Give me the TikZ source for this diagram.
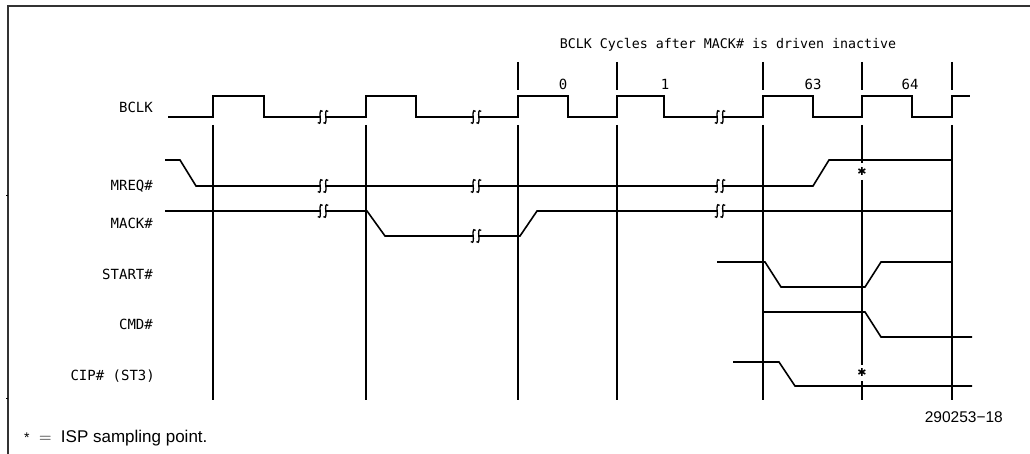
\documentclass[tikz,border=0pt]{standalone}
\usepackage{fontspec}
\setmainfont{Liberation Sans}
\newfontfamily\lblfont{DejaVu Sans Mono}
\newfontfamily\starfont{DejaVu Sans}
\begin{document}
\begin{tikzpicture}[x=1pt,y=-1pt,
  clk/.style={line width=2.8pt, line join=miter},
  sig/.style={line width=1.6pt, line join=miter},
  gridline/.style={line width=1.2pt},
  frame/.style={line width=1.8pt, draw=black!80},
  brk/.style={line width=1.3pt},
  lbl/.style={font=\lblfont\fontsize{14}{15}\selectfont, inner sep=0pt},
  hdr lbl/.style={font=\lblfont\fontsize{13.3}{15}\selectfont, inner sep=0pt},
  sig lbl/.style={lbl, anchor=east},
  note/.style={font=\fontsize{17}{19}\selectfont, inner sep=0pt},
  star/.style={font=\starfont\fontsize{11}{11}\selectfont, inner sep=0pt}
]
\newcommand\onebrk[2]{%
  \draw[brk] (#1+2.4,#2-5.6) .. controls (#1+1.2,#2-7.6) and (#1-0.3,#2-6.4) .. (#1-0.2,#2-2.5)
     -- (#1+0.2,#2+2.5) .. controls (#1+0.3,#2+6.4) and (#1-1.2,#2+7.6) .. (#1-2.4,#2+5.6);}
\newcommand\brkmark[2]{\onebrk{#1-2.8}{#2}\onebrk{#1+2.8}{#2}}
\useasboundingbox (0,0) rectangle (1030,454);
% frame
\draw[frame] (8,454) -- (8,6) -- (1030,6);
\draw[line width=1pt] (6,196) -- (8,196);
\draw[line width=1pt] (6,398) -- (8,398);
% header
\node[hdr lbl] (hdr) at (728,45) {BCLK Cycles after MACK\# is driven inactive};
\node[lbl] (n0) at (563,84) {0};
\node[lbl] (n1) at (665,84) {1};
\node[lbl] (n63) at (813,84) {63};
\node[lbl] (n64) at (910,84) {64};
% signal labels
\node[sig lbl] (lbclk) at (153,107) {BCLK};
\node[sig lbl] (lmreq) at (153,186) {MREQ\#};
\node[sig lbl] (lmack) at (153,223) {MACK\#};
\node[sig lbl] (lstart) at (153,274) {START\#};
\node[sig lbl] (lcmd) at (153,324) {CMD\#};
\node[sig lbl] (lcip) at (155,376) {CIP\# (ST3)};
% vertical reference lines
\foreach \xx in {213,366,518,617,763,952}
  \draw[gridline] (\xx,125) -- (\xx,400);
\draw[gridline] (862,125) -- (862,163);
\draw[gridline] (862,180) -- (862,365);
\draw[gridline] (862,381) -- (862,400);
\foreach \xx in {518,617,763,862,952}
  \draw[gridline] (\xx,62) -- (\xx,90);
% BCLK
\draw[clk] (168,117) -- (213,117) -- (213,96) -- (264,96) -- (264,117) -- (320.2,117);
\draw[clk] (325.8,117) -- (366,117) -- (366,96) -- (416,96) -- (416,117) -- (473.2,117);
\draw[clk] (478.8,117) -- (518,117) -- (518,96) -- (568,96) -- (568,117) -- (617,117) -- (617,96)
   -- (664,96) -- (664,117) -- (717.2,117);
\draw[clk] (722.8,117) -- (763,117) -- (763,96) -- (813,96) -- (813,117) -- (862,117) -- (862,96)
   -- (912,96) -- (912,117) -- (952,117) -- (952,96) -- (970,96);
\brkmark{323}{117}\brkmark{476}{117}\brkmark{720}{117}
% MREQ#
\draw[sig] (165,160) -- (180,160) -- (196,186) -- (320.2,186);
\draw[sig] (325.8,186) -- (473.2,186);
\draw[sig] (478.8,186) -- (717.2,186);
\draw[sig] (722.8,186) -- (813,186) -- (829,160) -- (952,160);
\brkmark{323}{186}\brkmark{476}{186}\brkmark{720}{186}
\node[star] (s1) at (862,171.5) {✱};
% MACK#
\draw[sig] (165,211) -- (320.2,211);
\draw[sig] (325.8,211) -- (367,211) -- (385,236) -- (473.2,236);
\draw[sig] (478.8,236) -- (520,236) -- (537,211) -- (717.2,211);
\draw[sig] (722.8,211) -- (952,211);
\brkmark{323}{211}\brkmark{476}{236}\brkmark{720}{211}
% START#
\draw[sig] (717,262) -- (765,262) -- (781,287) -- (865,287) -- (881,262) -- (952,262);
% CMD#
\draw[sig] (763,312) -- (865,312) -- (881,337) -- (972,337);
% CIP#
\draw[sig] (733,362) -- (779,362) -- (795,386) -- (972,386);
\node[star] (s2) at (862,372.5) {✱};
% notes
\node[note, anchor=east, font=\fontsize{15.5}{17}\selectfont] (fig) at (1003,417) {290253−18};
\node[note, anchor=west] (foot) at (24,438) {{\fontsize{14}{14}\selectfont *}\ \ $=$\ \ ISP sampling point.};
\end{tikzpicture}
\end{document}
